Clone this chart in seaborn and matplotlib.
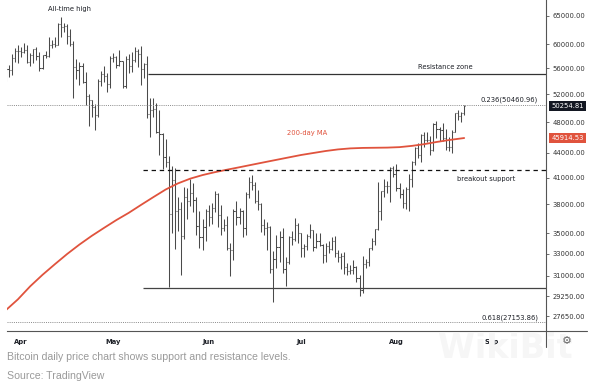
import pandas as pd
import seaborn as sns
import matplotlib.pyplot as plt
import matplotlib.dates as mdates
import matplotlib.transforms as mtransforms

# daily OHLC, 27 Mar 2021 .. 23 Aug 2021
dates = pd.date_range("2021-03-27", "2021-08-23", freq="D")

opens = [55050, 55850, 55780, 57630, 58750,
         58800, 58730, 58970, 57060, 58200, 59120, 57980, 56050, 58100, 58070, 59780, 59990, 59880, 63570, 62980,
         63260, 61400, 60000, 56230, 55720, 56450, 53800, 51700, 51150, 50100, 49000, 54020, 55030, 54850, 53560,
         57700, 57800, 56600, 57200, 53250, 57500, 56400, 57350, 58850, 58250, 55850, 56700, 49150, 49700, 49900,
         46750, 46450, 43550, 42900, 37000, 40700, 37300, 37500, 34700, 38800, 38350, 39250, 38450, 35700, 34600, 35650,
         37300, 36700, 37600, 39200, 36850, 35500, 35800, 33550, 33400, 37350, 36700, 37300, 35550, 39100, 40500,
         40150, 38350, 38100, 35850, 35550, 35650, 31650, 32500, 33700, 34650, 31600, 32250, 34650, 34450, 35850,
         35050, 33550, 33800, 34700, 35300, 33700, 34200, 33900, 32900, 33800, 33500, 34250, 33100, 32700, 32800,
         31800, 31400, 31500, 31800, 30800, 29800, 32100, 32300, 33600, 34250, 35400, 37250, 39450, 40000, 40000, 42200,
         41500, 39850, 39150, 38200, 39700, 40900, 42850, 44600, 43800, 46300, 45600, 45600, 44400, 47800, 47100,
         47000, 45950, 44700, 44800, 46750, 49300, 48900, 49300]
highs = [56600, 56550, 58400, 59370, 59800,
         59470, 60200, 59800, 58500, 59250, 59500, 58650, 58150, 58900, 61300, 60750, 61230, 63770, 64850, 63800,
         63540, 62600, 60500, 57550, 57000, 56800, 55450, 52100, 51200, 50600, 54350, 55500, 56400, 55200, 58000,
         58450, 57950, 58950, 57200, 57950, 58350, 58650, 59500, 59250, 59600, 56850, 58000, 51400, 51500, 50700,
         49800, 46600, 45800, 43600, 42450, 42200, 38800, 38300, 39900, 39800, 40850, 40400, 38850, 37300, 36450, 37500,
         37900, 38200, 39450, 39250, 37900, 36450, 36800, 34050, 37500, 38400, 37650, 37450, 39350, 41050, 41300,
         40500, 39550, 38200, 36450, 36100, 35750, 33300, 34800, 35250, 35500, 32700, 34700, 35250, 36600, 36000,
         35050, 33950, 34950, 35950, 35300, 35050, 35050, 33950, 34050, 34250, 34600, 34700, 33350, 33100, 33200,
         32200, 31950, 32400, 31900, 31050, 32800, 32550, 33600, 34500, 35400, 40500, 39500, 40900, 40600, 42300, 42400,
         42600, 40450, 39750, 39950, 41400, 43000, 44700, 45300, 46450, 46650, 46750, 46200, 47900, 48150, 47400,
         47950, 47150, 46000, 47000, 49350, 49800, 49500, 50500]
lows = [53950, 54700, 54900, 57020, 56870,
        57900, 58450, 56900, 56450, 56800, 57400, 55500, 55900, 57700, 57900, 59400, 59440, 59880, 61300, 62050,
        60000, 59650, 51500, 54250, 53400, 53650, 50400, 47500, 48800, 47000, 48800, 53300, 53900, 52350, 53000,
        57050, 56000, 56450, 53000, 52900, 55250, 55400, 56950, 56250, 53400, 54400, 48600, 46000, 48800, 46600,
        43800, 42050, 42300, 30000, 35000, 33500, 35250, 31100, 34400, 36450, 37800, 37200, 34800, 33600, 33400, 34200,
        35700, 35950, 37200, 35600, 34800, 35250, 33350, 31000, 32400, 35800, 35950, 34650, 34800, 38750, 39550,
        38150, 37400, 35150, 34850, 33400, 31300, 28800, 31700, 32300, 31300, 30150, 32050, 33900, 34250, 34050,
        32750, 32750, 33350, 34500, 33250, 33550, 33800, 32150, 32300, 33100, 33350, 32700, 32300, 31600, 31200,
        31050, 31200, 31200, 30450, 29300, 29500, 31700, 31900, 33400, 33850, 35300, 36400, 38800, 39300, 38300, 41050,
        39450, 38700, 37650, 37500, 37350, 39900, 42500, 43400, 42850, 44700, 45350, 43800, 44250, 45950, 45550,
        45550, 44350, 44250, 43950, 46650, 48300, 48100, 49050]
closes = [55850, 55780, 57630, 58750, 58800,
          58730, 58970, 57060, 58200, 59120, 57980, 56050, 58100, 58070, 59780, 59990, 59880, 63570, 62980, 63260,
          61400, 60000, 56230, 55720, 56450, 53800, 51700, 51150, 50100, 49000, 54020, 55030, 54850, 53560, 57700,
          57800, 56600, 57200, 53250, 57500, 56400, 57350, 58850, 58250, 55850, 56700, 49150, 49700, 49900, 46750,
          46450, 43550, 42900, 37000, 40700, 37300, 37500, 34700, 38800, 38350, 39250, 38450, 35700, 34600, 35650, 37300,
          36700, 37600, 39200, 36850, 35500, 35800, 33550, 33400, 37350, 36700, 37300, 35550, 39100, 40500, 40150,
          38350, 38100, 35850, 35550, 35650, 31650, 32500, 33700, 34650, 31600, 32250, 34650, 34450, 35850, 35050,
          33550, 33800, 34700, 35300, 33700, 34200, 33900, 32900, 33800, 33500, 34250, 33100, 32700, 32800, 31800,
          31400, 31500, 31800, 30800, 29800, 32100, 32300, 33600, 34250, 35400, 37250, 39450, 40000, 40000, 42200, 41500,
          39850, 39150, 38200, 39700, 40900, 42850, 44600, 43800, 46300, 45600, 45600, 44400, 47800, 47100, 47000,
          45950, 44700, 44800, 46750, 49300, 48900, 49300, 50250]

# 200-day moving average, every four days
ma_dates = ["2021-03-27", "2021-03-31", "2021-04-04", "2021-04-08", "2021-04-12", "2021-04-16",
            "2021-04-20", "2021-04-24", "2021-04-28", "2021-05-02", "2021-05-06", "2021-05-10",
            "2021-05-14", "2021-05-18", "2021-05-22", "2021-05-26", "2021-05-30", "2021-06-03",
            "2021-06-07", "2021-06-11", "2021-06-15", "2021-06-19", "2021-06-23", "2021-06-27",
            "2021-07-01", "2021-07-05", "2021-07-09", "2021-07-13", "2021-07-17", "2021-07-21",
            "2021-07-25", "2021-07-29", "2021-08-02", "2021-08-06", "2021-08-10", "2021-08-14",
            "2021-08-18", "2021-08-23"]
ma_values = [28100, 29000, 30100, 31100, 32050, 33000,
             33900, 34750, 35550, 36350, 37100, 37950,
             38800, 39650, 40350, 40900, 41320, 41660,
             41960, 42250, 42550, 42850, 43150, 43450,
             43750, 44000, 44250, 44450, 44580, 44640,
             44660, 44680, 44740, 44900, 45120, 45400,
             45650, 45915]

y_ticks = [65000, 60000, 56000, 52000, 48000, 44000, 41000, 38000, 35000, 33000, 31000, 29250, 27650]
month_ticks = ["2021-04-01", "2021-05-01", "2021-06-01", "2021-07-01", "2021-08-01", "2021-09-01"]
month_labels = ["Apr", "May", "Jun", "Jul", "Aug", "Sep"]

resistance = 55100
breakout = 41900
support = 29950
fib_236 = 50460.96
fib_618 = 27153.86
last_price = 50254.81
last_ma = 45914.53

sns.set_style("white")
plt.rcParams["font.family"] = ["DejaVu Sans"]

fig = plt.figure(figsize=(5.98, 3.84), dpi=100)
ax = fig.add_axes([7 / 598, 1 - 331 / 384, 539 / 598, 331 / 384])

ink = "#1c1f26"
bar_ink = "#4a4a4a"
red = "#e0533d"
x = mdates.date2num(dates)
half = 0.38
ax.vlines(x, lows, highs, color=bar_ink, lw=0.75)
ax.hlines(opens, x - half, x, color=bar_ink, lw=0.75)
ax.hlines(closes, x, x + half, color=bar_ink, lw=0.75)

ma_df = pd.DataFrame({"date": pd.to_datetime(ma_dates), "ma": ma_values})
sns.lineplot(data=ma_df, x="date", y="ma", ax=ax, color=red, lw=1.3)

x0 = mdates.date2num(pd.Timestamp("2021-03-27 11:00"))
x1 = mdates.date2num(pd.Timestamp("2021-09-18 14:00"))
ax.set_xlim(x0, x1)
ax.set_yscale("log")
ax.set_ylim(26500, 68030)

# levels
ax.axhline(fib_236, color="#8a8a8a", lw=0.7, ls=(0, (1, 1.2)))
ax.axhline(fib_618, color="#8a8a8a", lw=0.7, ls=(0, (1, 1.2)))
xs_res = mdates.date2num(pd.Timestamp("2021-05-12 08:00"))
xs_sup = mdates.date2num(pd.Timestamp("2021-05-10 14:00"))
ax.hlines(resistance, xs_res, x1, color="#333333", lw=0.9)
ax.hlines(support, xs_sup, x1, color="#444444", lw=0.9)
ax.hlines(breakout, xs_sup, x1, color="#111111", lw=0.9, ls=(0, (3.5, 3)))

fs = 4.9
ax.text(mdates.date2num(pd.Timestamp("2021-04-16 22:00")), 66300, "All-time high", fontsize=fs,
        color=ink, ha="center", va="center")
ax.text(mdates.date2num(pd.Timestamp("2021-08-17")), 56200, "Resistance zone", fontsize=fs,
        color=ink, ha="center", va="center")
ax.text(mdates.date2num(pd.Timestamp("2021-09-16")), 51150, "0.236(50460.96)", fontsize=fs,
        color=ink, ha="right", va="center")
ax.text(mdates.date2num(pd.Timestamp("2021-08-30")), 40900, "breakout support", fontsize=fs,
        color=ink, ha="center", va="center")
ax.text(mdates.date2num(pd.Timestamp("2021-09-16")), 27530, "0.618(27153.86)", fontsize=fs,
        color=ink, ha="right", va="center")
ax.text(mdates.date2num(pd.Timestamp("2021-07-03")), 46600, "200-day MA", fontsize=fs,
        color=red, ha="center", va="center")

# axes styling
for side in ["left", "top"]:
    ax.spines[side].set_visible(False)
for side in ["right", "bottom"]:
    ax.spines[side].set_color("#555555")
    ax.spines[side].set_linewidth(0.8)

ax.yaxis.tick_right()
ax.minorticks_off()
ax.set_yticks(y_ticks)
ax.set_yticklabels([f"{v:.2f}" for v in y_ticks])
ax.set_xticks(mdates.date2num(pd.to_datetime(month_ticks)))
ax.set_xticklabels(month_labels)
ax.tick_params(axis="y", direction="out", length=2.5, width=0.6, color="#555555",
               labelsize=fs, labelcolor="#333333", pad=2)
ax.tick_params(axis="x", direction="out", length=2.5, width=0.6, color="#555555",
               labelsize=fs, labelcolor=ink, pad=3)
for lab in ax.get_xticklabels():
    lab.set_fontweight("bold")
ax.set_xlabel("")
ax.set_ylabel("")

# last price / MA tags on the price scale
trans = mtransforms.blended_transform_factory(ax.transAxes, ax.transData)
ax.text(1.01, last_price, f"{last_price:.2f}", transform=trans, fontsize=fs, color="white",
        ha="left", va="center", bbox=dict(boxstyle="square,pad=0.3", fc="#131722", ec="none"))
ax.text(1.01, last_ma, f"{last_ma:.2f}", transform=trans, fontsize=fs, color="white",
        ha="left", va="center", bbox=dict(boxstyle="square,pad=0.3", fc=red, ec="none"))

# extended axis lines, settings icon, faint watermark
fig.add_artist(plt.Line2D([546 / 598, 587 / 598], [1 - 331 / 384] * 2, color="#555555", lw=0.8))
fig.add_artist(plt.Line2D([546 / 598] * 2, [1 - 331 / 384, 1 - 347 / 384], color="#555555", lw=0.8))
fig.text(567 / 598, 1 - 341 / 384, "\u2699", fontsize=8, color="#666666", ha="center", va="center")
fig.text(505 / 598, 1 - 348 / 384, "WikiBit", fontsize=24, fontweight="bold", color="#f6f6f6",
         ha="center", va="center", zorder=0)

cap = "#9a9a9a"
fig.text(7 / 598, 1 - 357 / 384, "Bitcoin daily price chart shows support and resistance levels.",
         fontsize=7.6, color=cap, family="Liberation Sans", ha="left", va="center")
fig.text(7 / 598, 1 - 376 / 384, "Source: TradingView", fontsize=7.6, color=cap,
         family="Liberation Sans", ha="left", va="center")

fig.savefig("out.png", dpi=100)
